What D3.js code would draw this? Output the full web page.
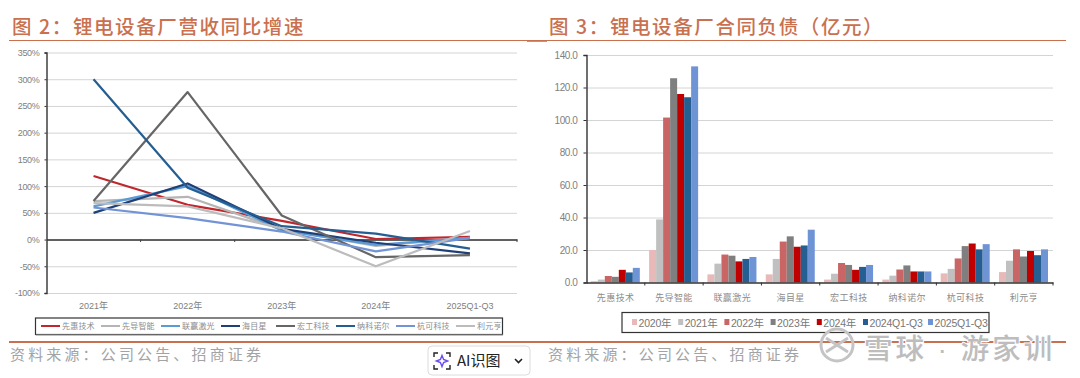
<!DOCTYPE html>
<html>
<head>
<meta charset="utf-8">
<script src="https://cdn.jsdelivr.net/npm/d3@7"></script>
<style>
body { margin: 0; background: #fff; }
svg { display: block; }
text { font-family: "Liberation Sans", Arial, "Noto Sans CJK SC", sans-serif; }
.cjk { font-family: "Noto Sans CJK SC", sans-serif; }
.title { font-size: 19.5px; font-weight: 500; fill: #c9704f; letter-spacing: 1.6px; }
.source { font-size: 15px; fill: #a3a3a3; letter-spacing: 3.15px; }
.domain { stroke: #333; stroke-width: 1.4; }
.grid .domain { display: none; }
.grid line { stroke: #d4d4d4; stroke-width: 1; }
.tick text { fill: #808080; }
</style>
</head>
<body>
<div id="chart"></div>
<script>
// left chart data
const years = ['2021年', '2022年', '2023年', '2024年', '2025Q1-Q3']
const companies = ['先惠技术', '先导智能', '联赢激光', '海目星', '宏工科技', '纳科诺尔', '杭可科技', '利元亨']
const xianhui = [119, 65, 35, 1, 5]
const xiandao = [72, 80, 19, -12, 3]
const lianying = [62, 100, 17, -10, 3]
const haimuxing = [50, 105, 20, -6, -26]
const honggong = [72, 276, 45, -33, -29]
const nake = [300, 97, 25, 11, -17]
const hangke = [60, 40, 15, -22, 3]
const liyuanheng = [68, 62, 21, -50, 16]
const growthSeries = [xianhui, xiandao, lianying, haimuxing, honggong, nake, hangke, liyuanheng]
const lineColours = ['#c0272d', '#b5b5b5', '#5b9bd5', '#1f3f77', '#666666', '#255e91', '#7293d4', '#bcbcbc']

// right chart data
const periods = ['2020年', '2021年', '2022年', '2023年', '2024年', '2024Q1-Q3', '2025Q1-Q3']
const liab2020 = [0.8, 20, 5, 5, 1.8, 1.8, 5.6, 6.4]
const liab2021 = [1.8, 38.8, 11.6, 14.5, 5.4, 4.2, 8.4, 13.4]
const liab2022 = [4, 101.5, 17.2, 25.2, 12, 8, 14.8, 20.4]
const liab2023 = [3.5, 125.7, 16.5, 28.4, 10.8, 10.5, 22.4, 16]
const liab2024 = [7.8, 116, 13, 22, 7.8, 6.8, 24, 19.4]
const liab24q3 = [6.2, 114, 14.5, 22.8, 9.6, 6.8, 20.4, 16.8]
const liab25q3 = [9, 133, 15.7, 32.5, 10.8, 6.8, 23.6, 20.4]
const liabSeries = [liab2020, liab2021, liab2022, liab2023, liab2024, liab24q3, liab25q3]
const barColours = ['#e8b9b9', '#c0c0c0', '#c96565', '#7f7f7f', '#c00000', '#255e91', '#6f94d6']

const growthTicks = [-100, -50, 0, 50, 100, 150, 200, 250, 300, 350]
const liabTicks = [0, 20, 40, 60, 80, 100, 120, 140]

const rust = '#c9704f'
const svg = d3.select('div#chart').append('svg').attr('width', 1080).attr('height', 378)

// titles + rules
svg.append('text').attr('class', 'cjk title').attr('x', 12).attr('y', 34).text('图 2：锂电设备厂营收同比增速')
svg.append('text').attr('class', 'cjk title').attr('x', 549).attr('y', 34).text('图 3：锂电设备厂合同负债（亿元）')
svg.append('line').attr('x1', 9).attr('x2', 1066).attr('y1', 40.5).attr('y2', 40.5).attr('stroke', rust).attr('stroke-width', 1)
svg.append('line').attr('x1', 527).attr('x2', 547).attr('y1', 41).attr('y2', 41).attr('stroke', rust).attr('stroke-width', 1.6)
svg.append('line').attr('x1', 9).attr('x2', 1066).attr('y1', 342).attr('y2', 342).attr('stroke', rust).attr('stroke-width', 1.8)
svg.append('text').attr('class', 'cjk source').attr('x', 10).attr('y', 360).text('资料来源：公司公告、招商证券')
svg.append('text').attr('class', 'cjk source').attr('x', 548).attr('y', 360).text('资料来源：公司公告、招商证券')

// ---- left: line chart
const x1 = d3.scaleBand().domain(years).range([46.5, 517])
const y1 = d3.scaleLinear().domain([-100, 350]).range([293, 52.5])

svg.append('g').attr('class', 'grid').attr('transform', 'translate(46.5,0)')
    .call(d3.axisLeft(y1).tickValues(growthTicks).tickSize(-470.5).tickFormat(''))

const yAxis1 = svg.append('g').attr('transform', 'translate(46.5,0)')
    .call(d3.axisLeft(y1).tickValues(growthTicks).tickSize(2).tickSizeOuter(2).tickFormat(d => d + '%'))
yAxis1.selectAll('.tick line').attr('stroke', '#333')
yAxis1.selectAll('text').attr('font-size', 9).attr('letter-spacing', -0.3).attr('x', -7)

// zero line with ticks, labels sit at the bottom of the plot
const xAxis1 = svg.append('g').attr('transform', `translate(0,${y1(0)})`)
    .call(d3.axisBottom(x1).tickValues([]).tickSize(0))
xAxis1.select('.domain').attr('stroke', '#666')
svg.append('g').selectAll('line').data(years).join('line')
    .attr('x1', d => x1(d) + x1.step()).attr('x2', d => x1(d) + x1.step())
    .attr('y1', y1(0)).attr('y2', y1(0) + 2.5).attr('stroke', '#444')
svg.append('g').selectAll('text').data(years).join('text')
    .attr('x', d => x1(d) + x1.bandwidth() / 2).attr('y', 309)
    .attr('text-anchor', 'middle').attr('font-size', 9).attr('fill', '#808080').text(d => d)

const lineGen = d3.line().x((d, i) => x1(years[i]) + x1.bandwidth() / 2).y(d => y1(d))
growthSeries.forEach((s, i) => {
    svg.append('path').datum(s).attr('d', lineGen).attr('fill', 'none')
        .attr('stroke', lineColours[i]).attr('stroke-width', 2.2).attr('stroke-linejoin', 'round')
})

// legend left
svg.append('rect').attr('x', 35.5).attr('y', 318).attr('width', 467).attr('height', 16.5)
    .attr('fill', '#fff').attr('stroke', '#333').attr('stroke-width', 1.2)
svg.append('line').attr('x1', 36).attr('x2', 503).attr('y1', 335).attr('y2', 335).attr('stroke', '#999')
let legendX = 41
companies.forEach((c, i) => {
    svg.append('line').attr('x1', legendX).attr('x2', legendX + 19).attr('y1', 326).attr('y2', 326)
        .attr('stroke', lineColours[i]).attr('stroke-width', 2)
    svg.append('text').attr('class', 'cjk').attr('x', legendX + 21).attr('y', 329)
        .attr('font-size', 8).attr('letter-spacing', 0.2).attr('fill', '#8c8c8c').text(c)
    legendX += c.length == 4 ? 60 : 55
})

// ---- right: grouped bars
const x2 = d3.scaleBand().domain(companies).range([586.5, 1053])
const y2 = d3.scaleLinear().domain([0, 140]).range([282.5, 55])
const inner = d3.scaleBand().domain(periods).range([4.3, x2.bandwidth() - 5]).padding(0)

svg.append('g').attr('class', 'grid').attr('transform', 'translate(586.5,0)')
    .call(d3.axisLeft(y2).tickValues(liabTicks.slice(1)).tickSize(-466.5).tickFormat(''))

liabSeries.forEach((s, j) => {
    svg.append('g').selectAll('rect').data(s).join('rect')
        .attr('x', (d, i) => x2(companies[i]) + inner(periods[j]))
        .attr('y', d => y2(d))
        .attr('width', inner.bandwidth())
        .attr('height', d => y2(0) - y2(d))
        .attr('fill', barColours[j])
})

const yAxis2 = svg.append('g').attr('transform', 'translate(586.5,0)')
    .call(d3.axisLeft(y2).tickValues(liabTicks).tickSize(3).tickSizeOuter(3).tickFormat(d3.format('.1f')))
yAxis2.selectAll('.tick line').attr('stroke', '#333')
yAxis2.selectAll('text').attr('font-size', 10).attr('letter-spacing', -0.4).attr('x', -9)

const xAxis2 = svg.append('g').attr('transform', `translate(0,${y2(0)})`)
    .call(d3.axisBottom(x2).tickSize(0))
xAxis2.selectAll('.tick text').remove()
svg.append('g').selectAll('line').data(companies).join('line')
    .attr('x1', d => x2(d) + x2.step()).attr('x2', d => x2(d) + x2.step())
    .attr('y1', y2(0)).attr('y2', y2(0) + 3).attr('stroke', '#333')
svg.append('g').selectAll('text').data(companies).join('text')
    .attr('class', 'cjk').attr('x', d => x2(d) + x2.bandwidth() / 2).attr('y', 301)
    .attr('text-anchor', 'middle').attr('font-size', 9).attr('letter-spacing', 0.4).attr('fill', '#8c8c8c').text(d => d)

// legend right
svg.append('rect').attr('x', 622).attr('y', 312.5).attr('width', 367).attr('height', 20)
    .attr('fill', '#fff').attr('stroke', '#333').attr('stroke-width', 1.2)
let keyX = 632
periods.forEach((p, i) => {
    svg.append('rect').attr('x', keyX).attr('y', 319).attr('width', 5).attr('height', 6).attr('fill', barColours[i])
    svg.append('text').attr('x', keyX + 6.5).attr('y', 326.5)
        .attr('font-size', 10.5).attr('letter-spacing', -0.2).attr('fill', '#777').text(p)
    keyX += p.length == 5 ? 46.2 : 65
})

// watermark
const mark = svg.append('g').attr('stroke', '#fff').attr('stroke-width', 2).attr('paint-order', 'stroke')
mark.append('circle').attr('cx', 837).attr('cy', 345).attr('r', 16).attr('fill', 'none').attr('stroke', '#c4c4c4').attr('stroke-width', 3)
mark.append('path').attr('d', 'M826 338L848 352M826 352L848 338').attr('fill', 'none').attr('stroke', '#c4c4c4').attr('stroke-width', 3)
mark.append('text').attr('x', 864).attr('y', 359).attr('font-size', 28.5).attr('font-weight', 500)
    .attr('letter-spacing', 2.9).attr('fill', '#bdbdbd').text('雪球 · 游家训')

// AI button overlay
const btn = svg.append('g')
btn.append('rect').attr('x', 428).attr('y', 346).attr('width', 102).attr('height', 29).attr('rx', 4)
    .attr('fill', '#fff').attr('stroke', '#dcdcdc')
btn.append('path').attr('d', 'M434 357v-4h4M446 353h4v4M450 365v4h-4M438 369h-4v-4')
    .attr('fill', 'none').attr('stroke', '#222').attr('stroke-width', 1.4)
btn.append('path').attr('d', 'M442 355.5l1.6 4 4 1.5-4 1.5-1.6 4-1.6-4-4-1.5 4-1.5z')
    .attr('fill', 'none').attr('stroke', '#6a4cf0').attr('stroke-width', 1.4)
btn.append('text').attr('class', 'cjk').attr('x', 457).attr('y', 366).attr('font-size', 15).attr('fill', '#222').text('AI识图')
btn.append('path').attr('d', 'M515 359l3.5 3.5 3.5-3.5').attr('fill', 'none').attr('stroke', '#222').attr('stroke-width', 1.6)
</script>
</body>
</html>
